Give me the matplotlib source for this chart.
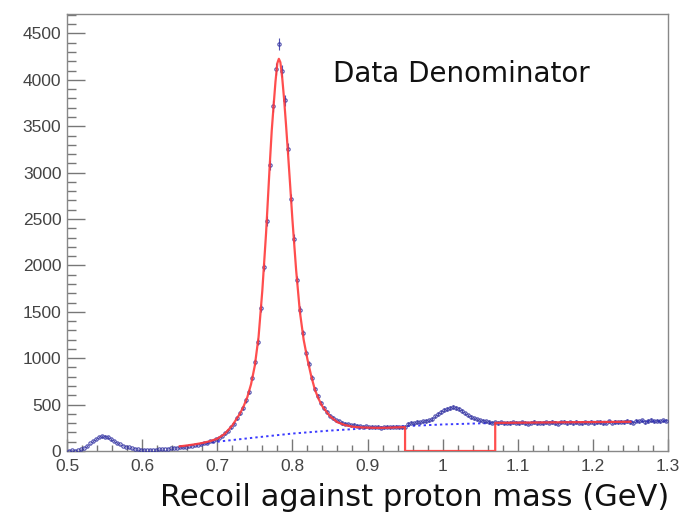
import numpy as np
import matplotlib
matplotlib.use("Agg")
import matplotlib.pyplot as plt
from matplotlib.ticker import FixedLocator, MultipleLocator, FixedFormatter

# ---------------- data ----------------
x_lo, x_hi, bin_w = 0.5, 1.3, 0.004

counts = [
    4, 6, 5, 9, 20, 34, 55, 82, 106, 128,
    149, 158, 155, 146, 124, 108, 90, 72, 58, 46,
    38, 31, 24, 19, 16, 13, 11, 13, 10, 15,
    17, 20, 22, 26, 29, 33, 36, 41, 44, 47,
    52, 56, 62, 70, 73, 84, 90, 103, 110, 128,
    142, 160, 190, 218, 258, 296, 355, 405, 462, 545,
    640, 790, 960, 1180, 1540, 1980, 2480, 3080, 3720, 4120,
    4390, 4100, 3780, 3260, 2720, 2290, 1840, 1520, 1270, 1060,
    940, 790, 668, 590, 515, 468, 420, 382, 355, 330,
    318, 302, 296, 288, 279, 284, 272, 268, 262, 266,
    258, 261, 254, 259, 252, 257, 262, 255, 260, 264,
    258, 254, 262, 292, 305, 300, 312, 308, 318, 322,
    330, 345, 372, 398, 420, 438, 452, 462, 470, 465,
    448, 428, 405, 384, 366, 352, 340, 332, 326, 318,
    314, 305, 310, 302, 308, 298, 306, 301, 311, 304,
    299, 309, 303, 296, 307, 312, 300, 305, 298, 310,
    304, 313, 301, 296, 308, 315, 303, 309, 300, 312,
    306, 298, 311, 304, 316, 302, 309, 313, 300, 307,
    318, 305, 312, 308, 315, 310, 322, 313, 306, 326,
    318, 332, 312, 324, 335, 318, 328, 321, 330, 326,
]

# total fit function (zero in the rejected window 0.95-1.07)
fit_x = [0.65, 0.66, 0.67, 0.68, 0.69, 0.70, 0.71, 0.72, 0.73, 0.735,
         0.74, 0.745, 0.75, 0.755, 0.76, 0.765, 0.77, 0.7725, 0.775, 0.7775,
         0.78, 0.782, 0.784, 0.7865, 0.789, 0.7915, 0.794, 0.797, 0.80, 0.805,
         0.81, 0.815, 0.82, 0.825, 0.83, 0.835, 0.84, 0.85, 0.86, 0.87,
         0.88, 0.89, 0.90, 0.91, 0.92, 0.93, 0.94, 0.95, 0.95, 1.07,
         1.07, 1.10, 1.15, 1.20, 1.25]
fit_y = [50, 60, 72, 86, 105, 132, 185, 275, 400, 480,
         580, 720, 920, 1230, 1730, 2350, 3100, 3450, 3720, 3980,
         4180, 4227, 4190, 4020, 3790, 3520, 3230, 2870, 2500, 1950,
         1500, 1200, 990, 810, 660, 560, 480, 375, 310, 280,
         262, 255, 252, 250, 250, 252, 255, 257, 0, 0,
         303, 305, 309, 312, 315]

# background component
bg_x = [0.65, 0.70, 0.75, 0.80, 0.85, 0.90, 0.95, 1.00, 1.05, 1.10, 1.15, 1.20, 1.25, 1.30]
bg_y = [45, 100, 145, 188, 220, 245, 268, 286, 298, 305, 310, 314, 318, 322]

x_ticks = [0.5, 0.6, 0.7, 0.8, 0.9, 1.0, 1.1, 1.2, 1.3]
x_tick_labels = ["0.5", "0.6", "0.7", "0.8", "0.9", "1", "1.1", "1.2", "1.3"]
y_ticks = [0, 500, 1000, 1500, 2000, 2500, 3000, 3500, 4000, 4500]

# ---------------- figure ----------------
W, H = 679, 519
fig = plt.figure(figsize=(W / 100, H / 100), dpi=100)
ax = fig.add_axes([67 / W, 1 - 451 / H, (668 - 67) / W, (451 - 14) / H])

counts_a = np.array(counts, dtype=float)
centers = x_lo + bin_w * (np.arange(len(counts_a)) + 0.5)
errs = np.sqrt(counts_a)

ax.errorbar(centers, counts_a, yerr=errs, fmt='o', ms=2.4, mfc='none',
            mec='#2f2fa0', mew=0.8, ecolor='#3535a5', elinewidth=0.8,
            alpha=0.85, zorder=3)
ax.plot(bg_x, bg_y, linestyle=(0, (1.2, 1.6)), color='#3b3bff', lw=1.4, zorder=2)
ax.plot(fit_x, fit_y, color='#ff3b3b', lw=1.6, alpha=0.9, zorder=4)

ax.set_xlim(x_lo, x_hi)
ax.set_ylim(0, 4710)

ax.xaxis.set_major_locator(FixedLocator(x_ticks))
ax.xaxis.set_major_formatter(FixedFormatter(x_tick_labels))
ax.xaxis.set_minor_locator(MultipleLocator(0.02))
ax.yaxis.set_major_locator(FixedLocator(y_ticks))
ax.yaxis.set_minor_locator(MultipleLocator(100))

tick_col = '#777777'
ax.tick_params(axis='x', which='major', direction='in', length=8.6, width=1.0,
               color=tick_col, labelsize=12.5, labelcolor='#444444', pad=5.5)
ax.tick_params(axis='x', which='minor', direction='in', length=4.3, width=1.0,
               color=tick_col)
ax.tick_params(axis='y', which='major', direction='in', length=13, width=1.0,
               color=tick_col, labelsize=12.5, labelcolor='#444444', pad=4)
ax.tick_params(axis='y', which='minor', direction='in', length=6.5, width=1.0,
               color=tick_col)
for lab in ax.get_xticklabels() + ax.get_yticklabels():
    lab.set_fontfamily('Liberation Sans')
for s in ax.spines.values():
    s.set_color('#888888')
    s.set_linewidth(1.0)

fig.text(669 / W, 1 - 497 / H, "Recoil against proton mass (GeV)",
         ha='right', va='center', fontsize=22, family='DejaVu Sans', color='#111111')
fig.text(333 / W, 1 - 74 / H, "Data Denominator",
         ha='left', va='center', fontsize=20, family='DejaVu Sans', color='#111111')

fig.savefig("out.png", dpi=100)
